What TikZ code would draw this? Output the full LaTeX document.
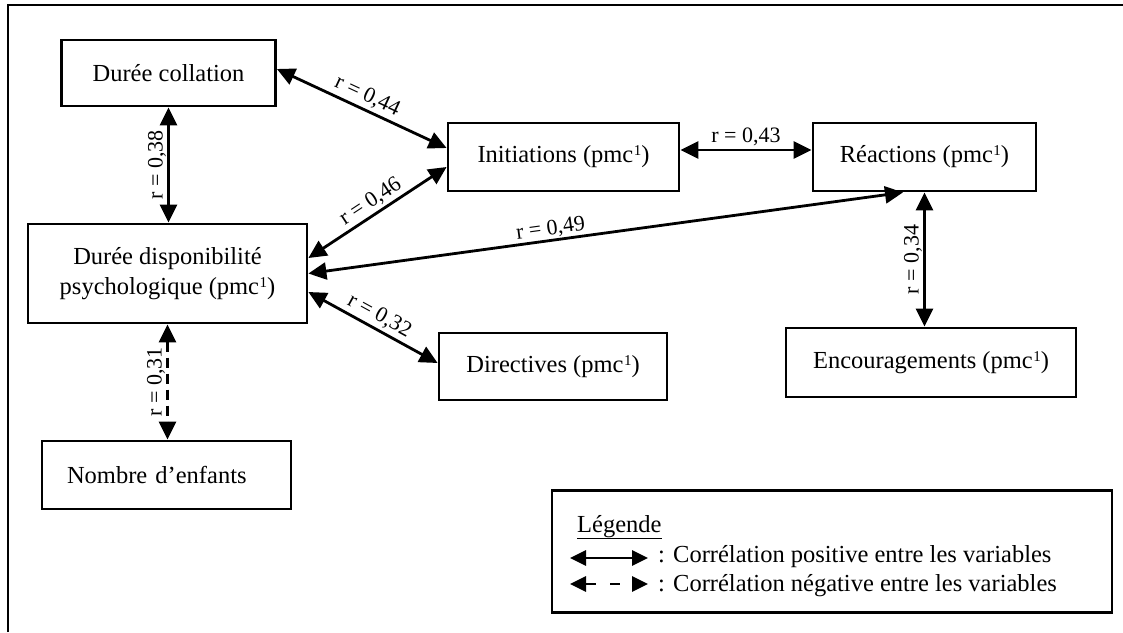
\documentclass[tikz,border=0pt]{standalone}
\usepackage{fontspec}
\setmainfont{Liberation Serif}
\usetikzlibrary{arrows.meta}
\newcommand\bigfs{\fontsize{24.5pt}{29.5pt}\selectfont}
\newcommand\lblfs{\fontsize{22pt}{26pt}\selectfont}
\newcommand\supone{\kern0.5pt\raisebox{7pt}{\fontsize{15pt}{15pt}\selectfont 1}}
\begin{document}
\begin{tikzpicture}[x=1pt,y=-1pt,
  box/.style={draw, line width=2.8pt, inner sep=0pt, align=center, font=\bigfs},
  corr/.style={line width=2.8pt, {Triangle[length=18pt,width=17pt]}-{Triangle[length=18pt,width=17pt]}},
  neg/.style={corr, dash pattern=on 10pt off 6pt},
  legcorr/.style={line width=2.8pt, {Triangle[length=16pt,width=15pt]}-{Triangle[length=16pt,width=15pt]}},
  lbl/.style={font=\lblfs, inner sep=1pt},
  frameline/.style={line width=2.6pt},
  legtext/.style={anchor=base west, inner sep=0pt, font=\bigfs}]
\useasboundingbox (0,0) rectangle (1123,632);
% outer frame (only top and left visible)
\draw[frameline] (8,632) -- (8,5) -- (1123,5);

% boxes
\node[box, minimum width=214pt, minimum height=66pt] (dc) at (168.5,73) {Durée collation};
\node[box, minimum width=279pt, minimum height=99pt] (dd) at (167.5,273.5) {Durée disponibilité\\psychologique (pmc\supone)};
\node[box, minimum width=231pt, minimum height=68pt] (ini) at (563.5,157) {Initiations (pmc\supone)};
\node[box, minimum width=223pt, minimum height=68pt] (rea) at (924.5,157) {Réactions (pmc\supone)};
\node[box, minimum width=228pt, minimum height=67pt] (dir) at (553,366.5) {Directives (pmc\supone)};
\node[box, minimum width=290pt, minimum height=69pt] (enc) at (931,362.5) {Encouragements (pmc\supone)};
\node[box, minimum height=68pt, text width=199pt, align=left, inner xsep=25pt] (nom) at (166.5,475) {Nombre d’enfants};

% correlations
\draw[corr] ([yshift=4pt]dc.east) -- node[lbl, midway, sloped, above=2pt]{r = 0,44} ([yshift=9pt]ini.west);
\draw[corr] (dc.south) -- node[lbl, midway, rotate=90, anchor=south]{r = 0,38} (dc.south |- dd.north);
\draw[corr] ([yshift=15.5pt]dd.east) -- node[lbl, midway, sloped, above=1pt]{r = 0,46} ([yshift=-10pt]ini.west);
\draw[corr] (dd.east) -- node[lbl, pos=0.41, sloped, above=0pt]{r = 0,49} ([xshift=-21.5pt]rea.south);
\draw[corr] ([yshift=-18.5pt]dd.east) -- node[lbl, midway, sloped, above=2pt]{r = 0,32} ([yshift=3.5pt]dir.west);
\draw[neg] (dd.south) -- node[lbl, midway, rotate=90, anchor=south]{r = 0,31} (dd.south |- nom.north);
\draw[corr] ([yshift=7pt]ini.east) -- node[lbl, midway, above=2pt]{r = 0,43} ([yshift=7pt]rea.west);
\draw[corr] (rea.south) -- node[lbl, midway, rotate=90, anchor=south]{r = 0,34} (rea.south |- enc.north);

% legend
\node[draw, line width=2.8pt, minimum width=560pt, minimum height=122pt, inner sep=0pt] (leg) at (832,551.5) {};
\node[legtext] (lgt) at (577,532) {\underline{Légende}};
\coordinate (pa) at (570,558);
\coordinate (pb) at (648,558);
\coordinate (na) at (570,584);
\coordinate (nb) at (648,584);
\draw[legcorr] (pa) -- (pb);
\draw[legcorr, dash pattern=on 11pt off 14pt on 10pt off 20pt] (na) -- (nb);
\node[legtext] (lpt) at (658,562) {: Corrélation positive entre les variables};
\node[legtext] (lnt) at (658,591) {: Corrélation négative entre les variables};
\end{tikzpicture}
\end{document}
